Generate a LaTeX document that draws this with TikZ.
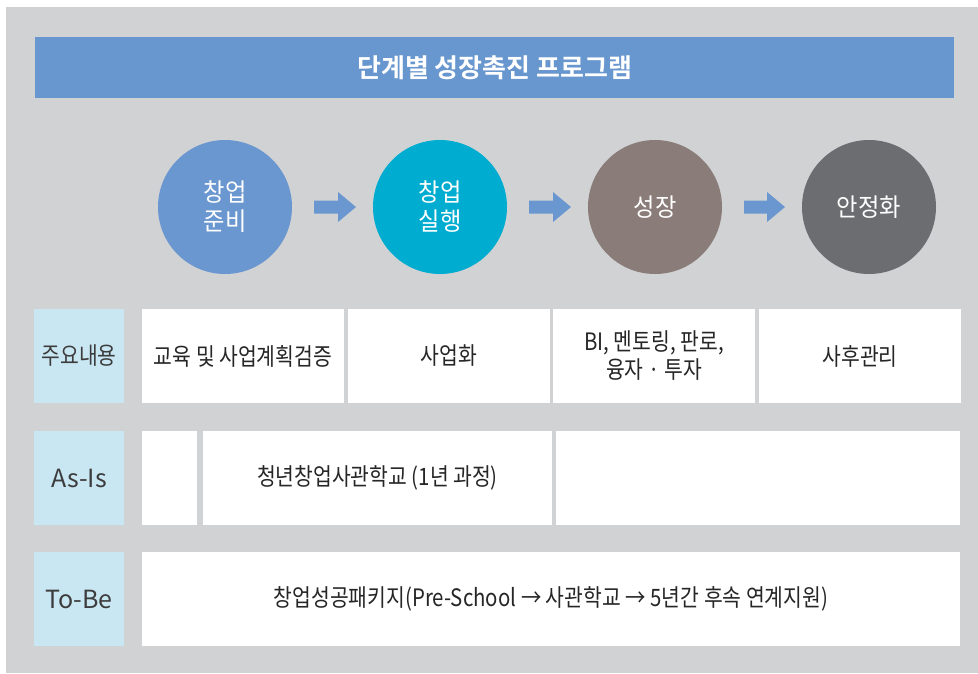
\documentclass[tikz,border=0pt]{standalone}
\usepackage{fontspec}
\setmainfont[FakeStretch=0.85]{Noto Sans CJK KR}
\newfontfamily\circfont[FakeStretch=0.93]{Noto Sans CJK KR}
\newfontfamily\labfont{Noto Sans CJK KR}
\newfontfamily\titlefont{Noto Sans CJK KR Bold}
\usetikzlibrary{calc}
\definecolor{bggray}{HTML}{D1D2D4}
\definecolor{titleblue}{HTML}{6896CE}
\definecolor{cblue}{HTML}{6A97CF}
\definecolor{ccyan}{HTML}{00ACCF}
\definecolor{cbrown}{HTML}{8A7C78}
\definecolor{cdark}{HTML}{6C6D71}
\definecolor{labelblue}{HTML}{C9E7F3}
\definecolor{txt}{HTML}{262626}
\definecolor{labtxt}{HTML}{3C3C3C}
\newcommand\blockarr[2]{%
  \fill[cblue] ($(#1.east)+(22,-6.5)$) -- ($(#2.west)+(-35,-6.5)$) -- ($(#2.west)+(-35,-15)$)
    -- ($(#2.west)+(-17,0)$) -- ($(#2.west)+(-35,15)$) -- ($(#2.west)+(-35,6.5)$)
    -- ($(#1.east)+(22,6.5)$) -- cycle;}
\begin{document}
\begin{tikzpicture}[x=1pt,y=-1pt,
  stage/.style={circle,minimum size=134pt,inner sep=0pt,outer sep=0pt,text=white,align=center,
    font=\circfont\fontsize{25}{29}\selectfont},
  cellbox/.style={rectangle,fill=white,anchor=north west,inner sep=0pt,outer sep=0pt,
    minimum height=94pt,text=txt,align=center,font=\fontsize{24}{28}\selectfont},
  labelbox/.style={cellbox,fill=labelblue,minimum width=90pt,text=labtxt}]
\useasboundingbox (0,0) rectangle (978,673);
\fill[bggray] (6,7) rectangle (978,673);
\node[fill=titleblue,anchor=north west,minimum width=919pt,minimum height=61pt,inner sep=0pt,
  text=white,font=\titlefont\fontsize{26}{30}\selectfont] (title) at (35,37) {단계별 성장촉진 프로그램};
\node[stage,fill=cblue] (c1) at (225,207) {창업\\준비};
\node[stage,fill=ccyan] (c2) at (440,207) {창업\\실행};
\node[stage,fill=cbrown] (c3) at (655,207) {성장};
\node[stage,fill=cdark] (c4) at (869,207) {안정화};
\blockarr{c1}{c2}
\blockarr{c2}{c3}
\blockarr{c3}{c4}
% row 1
\node[labelbox] (l1) at (34,309) {주요내용};
\node[cellbox,minimum width=202pt] (r1a) at (142,309) {교육 및 사업계획검증};
\node[cellbox,minimum width=202pt] (r1b) at (348,309) {사업화};
\node[cellbox,minimum width=202pt] (r1c) at (553,309) {BI, 멘토링, 판로,\\융자 · 투자};
\node[cellbox,minimum width=202pt] (r1d) at (759,309) {사후관리};
% row 2
\node[labelbox,font=\labfont\fontsize{25}{29}\selectfont] (l2) at (34,431) {As-Is};
\node[cellbox,minimum width=55pt] (r2a) at (142,431) {};
\node[cellbox,minimum width=349pt] (r2b) at (203,431) {청년창업사관학교 (1년 과정)};
\node[cellbox,minimum width=404pt] (r2c) at (556,431) {};
% row 3
\node[labelbox,font=\labfont\fontsize{25}{29}\selectfont] (l3) at (34,552) {To-Be};
\node[cellbox,minimum width=818pt] (r3a) at (142,552) {창업성공패키지(Pre-School → 사관학교 → 5년간 후속 연계지원)};
\end{tikzpicture}
\end{document}
